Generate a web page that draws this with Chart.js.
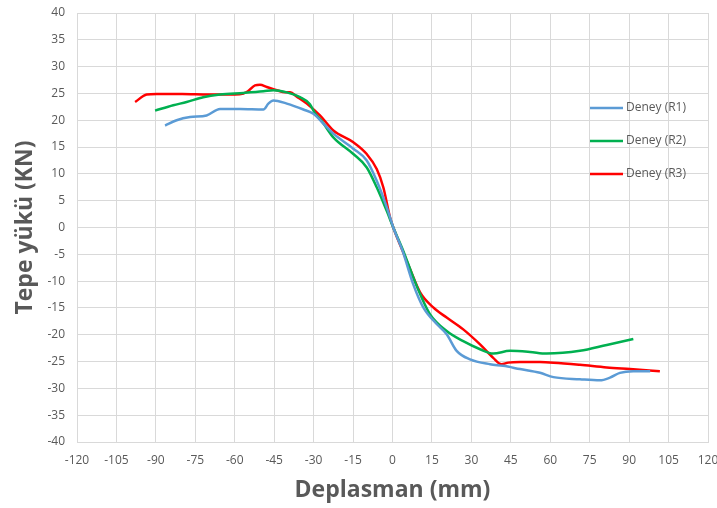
<!DOCTYPE html>
<html>
<head>
<meta charset="utf-8">
<script src="https://cdn.jsdelivr.net/npm/chart.js@4.4.1/dist/chart.umd.min.js"></script>
<style>
  html, body { margin: 0; padding: 0; background: #fff; }
  #wrap { width: 717px; height: 508px; position: relative; }
</style>
</head>
<body>
<div id="wrap"><canvas id="grafik"></canvas></div>
<script>
// deney R1
const r1X = [-86.5, -82.1, -77.0, -70.7, -65.6, -58.0, -49.1, -47.2, -45.3, -40.2, -33.9, -30.1, -25.0, -22.5, -14.9, -9.8, -6.0, -2.2, 0.3, 3.8, 7.9, 11.7, 16.8, 20.6, 24.4, 29.5, 37.1, 42.1, 48.5, 56.1, 61.2, 71.3, 78.9, 82.7, 86.5, 91.6, 98.0];
const r1Y = [19.0, 20.0, 20.6, 20.9, 22.1, 22.1, 22.0, 23.1, 23.7, 23.1, 22.0, 21.2, 18.7, 17.5, 14.7, 12.5, 8.7, 3.8, 0, -4.3, -10.6, -14.9, -18.0, -19.9, -23.0, -24.6, -25.5, -25.8, -26.4, -27.1, -27.9, -28.3, -28.5, -28.0, -27.1, -26.8, -26.8];
// deney R2
const r2X = [-90.3, -83.4, -78.3, -72.0, -65.6, -56.7, -49.1, -45.3, -40.2, -35.2, -31.4, -29.5, -27.0, -22.5, -14.9, -9.8, -6.0, -2.2, 0.3, 3.8, 7.9, 10.5, 14.3, 20.6, 26.9, 33.3, 38.3, 44.7, 52.3, 58.6, 71.3, 81.5, 91.6];
const r2Y = [21.8, 22.8, 23.4, 24.3, 24.8, 25.1, 25.4, 25.6, 25.2, 24.3, 23.0, 21.3, 19.9, 16.8, 13.7, 11.2, 7.5, 3.1, 0, -4.0, -9.3, -12.4, -16.2, -19.3, -21.2, -22.7, -23.5, -23.0, -23.2, -23.5, -23.0, -21.9, -20.8];
// deney R3
const r3X = [-97.9, -93.5, -89.7, -80.0, -70.0, -60.0, -56.7, -55.0, -52.3, -50.4, -47.8, -44.0, -40.8, -38.9, -36.4, -32.6, -27.6, -22.5, -14.9, -9.8, -6.0, -3.5, -0.95, 0.3, 3.8, 6.7, 10.5, 15.5, 20.6, 26.9, 33.3, 38.3, 41.5, 44.0, 48.5, 56.1, 61.2, 71.3, 81.5, 90.3, 101.7];
const r3Y = [23.4, 24.8, 24.9, 24.9, 24.8, 24.8, 25.0, 25.4, 26.5, 26.6, 26.2, 25.6, 25.2, 25.2, 24.4, 23.1, 20.9, 18.1, 15.9, 13.7, 10.9, 7.5, 1.9, 0, -4.3, -7.8, -12.1, -14.9, -16.8, -19.0, -21.8, -24.3, -25.5, -25.2, -25.1, -25.1, -25.2, -25.6, -26.1, -26.4, -26.8];

const seriesNames = ['Deney (R1)', 'Deney (R2)', 'Deney (R3)'];
const seriesColors = ['#5B9BD5', '#00B050', '#FF0000'];

const xTitle = 'Deplasman (mm)';
const yTitle = 'Tepe yükü (KN)';

const gri = '#595959';
const izgara = '#D9D9D9';

function noktalar(xs, ys) {
  return xs.map((x, i) => ({ x: x, y: ys[i] }));
}

// legend drawn over the plot area, like the original sheet
const sagLejant = {
  id: 'sagLejant',
  afterDatasetsDraw(chart) {
    const ctx = chart.ctx;
    ctx.save();
    ctx.font = '12px "Open Sans"';
    ctx.textBaseline = 'middle';
    chart.data.datasets.forEach((ds, i) => {
      const yy = 108 + i * 33;
      const x0 = 590;
      ctx.strokeStyle = ds.borderColor;
      ctx.lineWidth = 2.5;
      ctx.beginPath();
      ctx.moveTo(x0, yy);
      ctx.lineTo(x0 + 33, yy);
      ctx.stroke();
      ctx.fillStyle = gri;
      ctx.fillText(ds.label, x0 + 36, yy);
    });
    ctx.restore();
  }
};

new Chart(document.getElementById('grafik'), {
  type: 'scatter',
  data: {
    datasets: [
      { label: seriesNames[0], data: noktalar(r1X, r1Y), borderColor: seriesColors[0] },
      { label: seriesNames[1], data: noktalar(r2X, r2Y), borderColor: seriesColors[1] },
      { label: seriesNames[2], data: noktalar(r3X, r3Y), borderColor: seriesColors[2] }
    ].map(d => Object.assign(d, {
      showLine: true,
      borderWidth: 2.5,
      pointRadius: 0,
      backgroundColor: d.borderColor,
      cubicInterpolationMode: 'monotone'
    }))
  },
  options: {
    responsive: true,
    maintainAspectRatio: false,
    animation: false,
    layout: { padding: { top: 13, right: 9, left: 0, bottom: 0 } },
    plugins: {
      legend: { display: false },
      tooltip: { enabled: false }
    },
    scales: {
      x: {
        type: 'linear',
        min: -120,
        max: 120,
        afterFit(s) {
          s.height = 66;
          s.paddingLeft = 0;
          s.paddingRight = 0;
        },
        ticks: { stepSize: 15, color: gri, font: { family: 'Open Sans', size: 12 }, padding: 11 },
        grid: { color: izgara, lineWidth: 1, drawTicks: false },
        border: { color: izgara },
        title: { display: true, text: xTitle, color: gri, font: { family: 'Open Sans', size: 23, weight: 'bold' }, padding: { top: 7 } }
      },
      y: {
        type: 'linear',
        min: -40,
        max: 40,
        afterFit(s) {
          s.width = 77;
          s.paddingTop = 0;
          s.paddingBottom = 0;
        },
        ticks: { stepSize: 5, color: gri, font: { family: 'Open Sans', size: 12 }, padding: 12 },
        grid: { color: izgara, lineWidth: 1, drawTicks: false },
        border: { color: izgara },
        title: { display: true, text: yTitle, color: gri, font: { family: 'Open Sans', size: 23, weight: 'bold' }, padding: { top: 12, bottom: 0 } }
      }
    }
  },
  plugins: [sagLejant]
});
</script>
</body>
</html>
